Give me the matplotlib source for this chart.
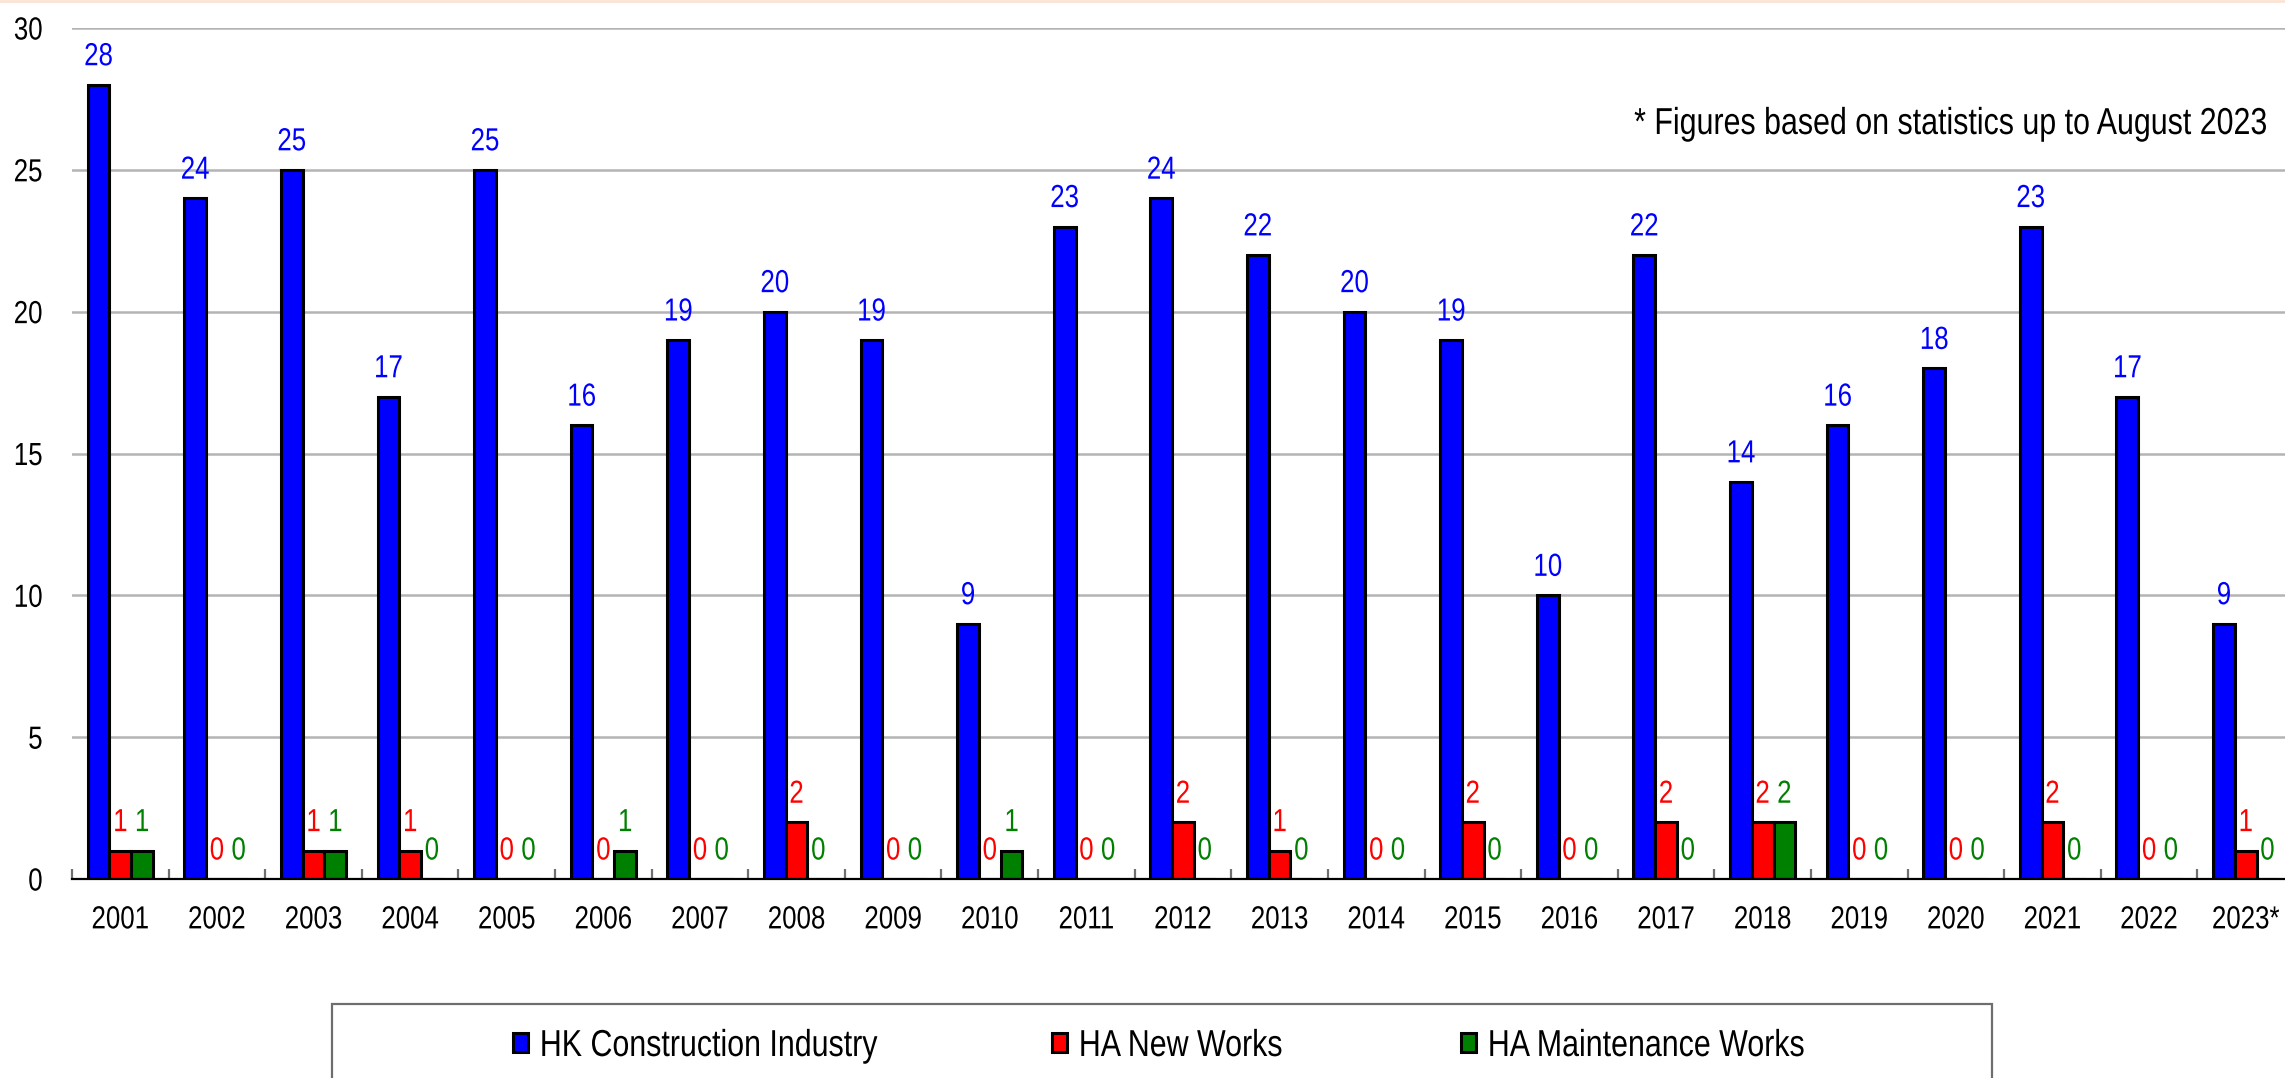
import matplotlib
matplotlib.use("Agg")
import matplotlib.pyplot as plt
import numpy as np
from matplotlib.patches import Rectangle
from matplotlib.lines import Line2D
from matplotlib import patheffects
from matplotlib.transforms import Affine2D

years = ["2001", "2002", "2003", "2004", "2005", "2006", "2007", "2008", "2009", "2010",
         "2011", "2012", "2013", "2014", "2015", "2016", "2017", "2018", "2019", "2020",
         "2021", "2022", "2023*"]
hk_construction = [28, 24, 25, 17, 25, 16, 19, 20, 19, 9, 23, 24, 22, 20, 19, 10, 22, 14, 16, 18, 23, 17, 9]
ha_new_works = [1, 0, 1, 1, 0, 0, 0, 2, 0, 0, 0, 2, 1, 0, 2, 0, 2, 2, 0, 0, 2, 0, 1]
ha_maintenance = [1, 0, 1, 0, 0, 1, 0, 0, 0, 1, 0, 0, 0, 0, 0, 0, 0, 2, 0, 0, 0, 0, 0]
series_names = ["HK Construction Industry", "HA New Works", "HA Maintenance Works"]
note_text = "* Figures based on statistics up to August 2023"

plt.rcParams['font.family'] = ['Liberation Sans', 'DejaVu Sans']


class Narrow(patheffects.AbstractPathEffect):
    """Horizontally condense text glyphs (Arial Narrow look)."""
    def __init__(self, sx=0.81, anchor="center"):
        super().__init__()
        self.sx = sx
        self.anchor = anchor

    def draw_path(self, renderer, gc, tpath, affine, rgbFace=None):
        ext = tpath.get_extents()
        if self.anchor == "left":
            cx = ext.x0
        elif self.anchor == "right":
            cx = ext.x1
        else:
            cx = 0.5 * (ext.x0 + ext.x1)
        t = Affine2D().translate(-cx, 0).scale(self.sx, 1).translate(cx, 0) + affine
        renderer.draw_path(gc, tpath, t, rgbFace)


W, H = 2285, 1078
fig = plt.figure(figsize=(W / 100, H / 100), dpi=100)
ax_left = 72 / W
ax_right = 2294 / W
ax_bottom = 1 - 879 / H
ax_top = 1 - 28 / H
ax = fig.add_axes([ax_left, ax_bottom, ax_right - ax_left, ax_top - ax_bottom])

x = np.arange(len(years))
bw = 0.225
colors = ["#0000ff", "#ff0000", "#008000"]
label_colors = ["#0000ff", "#ff0000", "#008000"]
data = [hk_construction, ha_new_works, ha_maintenance]
LBL = 23

for i, (vals, c, lc) in enumerate(zip(data, colors, label_colors)):
    pos = x + (i - 1) * bw
    ax.bar(pos, vals, width=bw, color=c, edgecolor="black", linewidth=2.2,
           zorder=3, label=series_names[i])
    for p, v in zip(pos, vals):
        ax.annotate(str(v), (p, v), xytext=(0, 9), textcoords="offset points",
                    ha="center", va="bottom", color=lc, fontsize=LBL, zorder=4,
                    path_effects=[Narrow(anchor="center")])

ax.set_xlim(-0.5, len(years) - 0.5)
ax.set_ylim(0, 30)
ax.set_yticks([0, 5, 10, 15, 20, 25, 30])
ax.yaxis.grid(True, color="#b4b4b4", linewidth=1.8, zorder=0)
ax.set_axisbelow(True)
for s in ["top", "right", "left"]:
    ax.spines[s].set_visible(False)
ax.spines["bottom"].set_color("black")
ax.spines["bottom"].set_linewidth(1.6)
ax.spines["bottom"].set_zorder(5)

ax.tick_params(axis="y", length=0, pad=21, labelsize=LBL)
ax.set_xticks(x)
ax.set_xticklabels(years)
ax.tick_params(axis="x", length=0, pad=19, labelsize=LBL)
ax.set_xticks(np.arange(0, len(years) + 1) - 0.5, minor=True)
ax.tick_params(axis="x", which="minor", direction="in", length=7, width=1.6, color="#707070")
for lbl in ax.get_xticklabels():
    lbl.set_path_effects([Narrow(anchor="center")])
for lbl in ax.get_yticklabels():
    lbl.set_path_effects([Narrow(anchor="right")])

# Note text
fig.text(2268 / W, 1 - 124 / H, note_text, ha="right", va="center", fontsize=27,
         path_effects=[Narrow(anchor="right")])

# Legend: one entry per legend so each sits where the reference places it
legend_x = [513, 1052, 1461]
for c, name, lx in zip(colors, series_names, legend_x):
    h = Rectangle((0, 0), 1, 1, facecolor=c, edgecolor="black", linewidth=2.2)
    leg = fig.legend([h], [name], loc="center left", bbox_to_anchor=(lx / W, 1 - 1046 / H),
                     frameon=False, fontsize=27, handlelength=0.4, handleheight=0.4,
                     handletextpad=0.3, borderaxespad=0, borderpad=0)
    for t in leg.get_texts():
        t.set_path_effects([Narrow(anchor="left")])

fig.patches.append(Rectangle((332 / W, -0.05), (1992 - 332) / W, 0.05 + (1 - 1004 / H),
                             transform=fig.transFigure, fill=False, edgecolor="#6e6e6e",
                             linewidth=1.6))

# faint top border
fig.add_artist(Line2D([0, 1], [1 - 1 / H, 1 - 1 / H], transform=fig.transFigure,
                      color="#fbe3d4", linewidth=2))

fig.savefig("out.png", dpi=100)
